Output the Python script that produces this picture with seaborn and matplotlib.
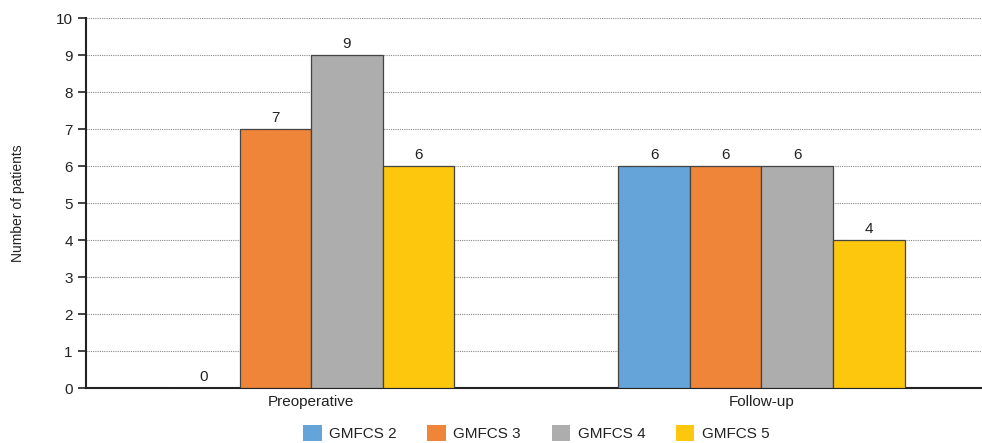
import pandas as pd
import matplotlib.pyplot as plt
import seaborn as sns

# Chart data
phases = ['Preoperative', 'Follow-up']
groups = ['GMFCS 2', 'GMFCS 3', 'GMFCS 4', 'GMFCS 5']
preop = [0, 7, 9, 6]
followup = [6, 6, 6, 4]
colors = ['#65A4D8', '#EF8538', '#ADADAD', '#FDC70D']

df = pd.DataFrame({
    'phase': [phases[0]] * 4 + [phases[1]] * 4,
    'group': groups + groups,
    'patients': preop + followup,
})

sns.set_style('white')
plt.rcParams['font.family'] = ['Liberation Sans', 'DejaVu Sans']

fig = plt.figure(figsize=(9.82, 4.43), dpi=100)
ax = fig.add_axes([0.0876, 0.124, 0.917, 0.835])

sns.barplot(data=df, x='phase', y='patients', hue='group', palette=colors,
            saturation=1, width=0.636, edgecolor='#444444', linewidth=0.9,
            ax=ax, zorder=3)

for cont in ax.containers:
    ax.bar_label(cont, padding=3, fontsize=11, color='#222222')

ax.set_ylim(0, 10)
ax.set_xlim(-0.5, 1.5)
ax.set_yticks(range(0, 11))
ax.yaxis.grid(True, linestyle=(0, (1, 1)), color='#888888', linewidth=0.8, zorder=0)
ax.set_axisbelow(True)

for s in ['top', 'right']:
    ax.spines[s].set_visible(False)
for s in ['left', 'bottom']:
    ax.spines[s].set_color('#222222')
    ax.spines[s].set_linewidth(1.5)

ax.tick_params(axis='y', direction='out', length=6, width=1.2, color='#222222',
               labelsize=11, left=True, labelcolor='#222222')
ax.tick_params(axis='x', which='major', length=0, labelsize=11, labelcolor='#222222', pad=5)
ax.set_xticks([-0.5, 0.5, 1.5], minor=True)
ax.tick_params(axis='x', which='minor', direction='out', length=8, width=1.2, color='#222222')

ax.set_xlabel('')
ax.set_ylabel('Number of patients', fontsize=10, color='#222222', labelpad=22)

ax.legend(loc='center', bbox_to_anchor=(0.5, -0.122), ncol=4, frameon=False,
          fontsize=11, handlelength=1.2, handleheight=1.2, columnspacing=2.0,
          handletextpad=0.5, labelcolor='#222222', borderpad=0)
for h in ax.get_legend().legend_handles:
    h.set_edgecolor('none')

fig.savefig('out.png', dpi=100)
